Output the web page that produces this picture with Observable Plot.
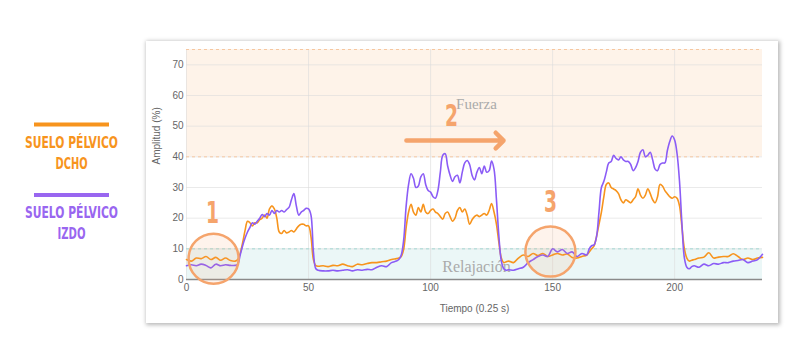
<!DOCTYPE html>
<html>
<head>
<meta charset="utf-8">
<script src="https://cdn.jsdelivr.net/npm/d3@7"></script>
<script src="https://cdn.jsdelivr.net/npm/@observablehq/plot@0.6"></script>
<style>
  html, body { margin: 0; padding: 0; background: #fff; }
  #wrap { position: relative; width: 792px; height: 364px; overflow: hidden; }
  #legend { position: absolute; left: 0; top: 0; }
  #card { position: absolute; left: 146px; top: 41px; width: 632px; height: 282px; background: #fff;
          box-shadow: 1px 1px 4px 1px rgba(0,0,0,0.28); }
  #card svg { display: block; }
</style>
</head>
<body>
<div id="wrap">
  <div id="legend"></div>
  <div id="card"></div>
</div>
<script>
// ---- data ----
const tiempo = [0,2,4,6,8,10,12,14,16,18,20,21,22,23,24,25,26,27,28,29,30,31,32,33,34,35,36,37,38,39,40,41,42,43,44,45,46,47,48,49,50,51,52,53,54,56,58,60,62,64,66,68,70,72,74,76,78,80,82,84,86,87,88,89,90,91,92,93,94,95,96,97,98,99,100,101,102,103,104,105,106,107,108,109,110,111,112,113,114,115,116,117,118,119,120,121,122,123,124,125,126,127,128,129,130,131,132,134,136,138,140,142,144,146,148,150,152,154,156,158,160,162,164,165,166,167,168,169,170,171,172,173,174,175,176,177,178,179,180,181,182,183,184,185,186,187,188,189,190,191,192,193,194,195,196,197,198,199,200,201,202,203,204,205,206,207,208,210,212,214,216,218,220,222,224,226,228,230,232,234,236];

const dcho = [6.5,6.0,7.0,6.8,7.5,6.5,7.2,6.3,7.0,6.2,6.0,6.5,8.5,12,16,19,18.5,17.5,18.5,18.5,19.5,20,21,20,23,24,23,20,15.5,15,16,15.2,15.5,16,15.5,16.5,17.5,18,18,17.5,17.5,14,6.5,4.5,4.3,4.5,4.2,4.6,4.5,5,4.5,4.2,5,4.8,5.2,5.5,5.5,5.8,6,6.5,6.8,7,7.5,10,17,22,24.5,22,21,23.5,22,24.5,22,21.5,22.5,23,22,21.5,20.5,19.7,21.5,22,20.5,19,20,22.5,23.5,22,23,21,18,19.5,20.5,21,20.5,21,21.5,21,22.5,24.8,22,18,12,7,5.5,5.8,6,5.5,7,8,7.5,8.5,7.8,8.5,7.5,8,8.5,8,8.3,7.2,7,7.5,8,9,10,11,14,18,22,27,31,31.5,30,29.5,29,28,26,25,26,25.5,25,26,27,29.6,27.5,26.5,27.5,29.6,28,26,25,27,31,30.5,29,28,27,26.5,27,26.5,24,17,10,7,6,6.3,6.5,7,7.3,8.7,7,7.3,7.5,7.5,8.4,7.5,6.5,7,6.5,7,7.2];

const izdo = [4.5,4.8,4.5,5,4.6,3.8,5,4.5,4.8,4.6,4.6,5,8,11,13.5,15.5,17,18.5,18,19,20,21.2,20.5,21.5,21,22.5,21.5,22.5,22,22.5,22,22.8,23.5,26,28,24,21,22,22.5,23.2,23,21,9,3.5,3,2.8,2.8,3,2.8,3,3.2,2.8,3.2,3,3.3,3.2,4,4.5,4.2,5.5,6,6.5,8,13,24,31,34.5,33,30,30.5,33.5,34.5,31,29,28.5,27,26.5,29,35,40.5,41,37,34,32,33.5,34,31.5,35,38,38.8,37.5,34,32.5,35,36.5,34.5,37,35,35.5,38.6,36,26,14,6,3.5,3,3.2,3,3.5,4,5.5,6.5,7.5,8,7.5,10,9,9.8,8.5,9,7.5,8.5,8,10,11,11.3,14,22,30,32,35,38,38.5,40.5,39.5,39,40,39,38.5,38.5,37.5,35.5,36.5,38.5,41.5,42.3,40,40.5,41.5,39,36,35.5,37.5,38,38,42,45,46.8,45.5,41,32,18,7,4,3.5,4.2,4.5,4,5,4.5,5.2,5,5.5,5.5,6,6.2,6.5,5.5,6,6.5,8.2];

const xTicks = [0, 50, 100, 150, 200];
const yTicks = [0, 10, 20, 30, 40, 50, 60, 70];
const series = ["SUELO PÉLVICO DCHO", "SUELO PÉLVICO IZDO"];
const zonas = [
  {nombre: "Fuerza", desde: 40, hasta: 75},
  {nombre: "Relajación", desde: 0, hasta: 10}
];
// annotation anchors (data units)
const circulos = [{n: "1", t: 11.1, v: 6.8}, {n: "3", t: 149.1, v: 9.1}];
const numeros = [{n: "1", t: 10.7, v: 21.8}, {n: "2", t: 108.6, v: 53.2}, {n: "3", t: 149.1, v: 25.1}];
const flecha = [{t1: 90.1, t2: 129.9, v: 45.3}];
const etiquetasZona = [{txt: "Fuerza", t: 118.8, v: 57.1}, {txt: "Relajación", t: 118.8, v: 4.2}];

const cOrange = "#f7941d";
const cPurple = "#8b5cf6";
const cAnno = "#f5a46c";

const datD = tiempo.map((t, i) => ({t, v: dcho[i]}));
const datI = tiempo.map((t, i) => ({t, v: izdo[i]}));

const chart = Plot.plot({
  width: 632,
  height: 282,
  marginLeft: 40,
  marginRight: 16,
  marginTop: 8,
  marginBottom: 44,
  style: {fontFamily: "'Liberation Sans', Arial, sans-serif", background: "#fff", overflow: "visible"},
  x: {domain: [0, 236]},
  y: {domain: [0, 75]},
  marks: [
    Plot.rectY(zonas, {y1: "desde", y2: "hasta", fill: d => d.nombre === "Fuerza" ? "#fef3e9" : "#ebf7f7"}),
    Plot.gridY(yTicks.slice(1), {stroke: "#dcdcdc", strokeOpacity: 0.6}),
    Plot.gridX(xTicks, {stroke: "#dcdcdc", strokeOpacity: 0.6}),
    Plot.ruleY([40, 75], {stroke: "#f6c7a0", strokeDasharray: "3,3"}),
    Plot.ruleY([10], {stroke: "#a6d8d4", strokeDasharray: "3,3"}),
    Plot.axisY(yTicks, {tickSize: 0, tickPadding: 3, label: null, fontSize: 10, color: "#666"}),
    Plot.axisX(xTicks, {tickSize: 0, tickPadding: 4, label: null, fontSize: 10, color: "#666"}),
    Plot.ruleY([0], {stroke: "#8a8a8a", strokeWidth: 1.5}),
    Plot.text(etiquetasZona, {x: "t", y: "v", text: "txt", fill: "#aaa", fontSize: d => d.txt === "Fuerza" ? 15 : 16,
      fontFamily: "'Liberation Serif', 'DejaVu Serif', serif", textAnchor: "middle", lineAnchor: "middle"}),
    Plot.line(datD, {x: "t", y: "v", stroke: cOrange, strokeWidth: 1.6, curve: "catmull-rom"}),
    Plot.line(datI, {x: "t", y: "v", stroke: cPurple, strokeWidth: 1.6, curve: "catmull-rom"}),
    Plot.dot(circulos, {x: "t", y: "v", r: 25, fill: cAnno, fillOpacity: 0.13, stroke: cAnno, strokeWidth: 2.5}),
    Plot.text(numeros, {x: "t", y: "v", text: "n", fill: cAnno, fontSize: 31, fontWeight: "bold",
      fontFamily: "'DejaVu Sans Condensed', 'DejaVu Sans', sans-serif", textAnchor: "middle", lineAnchor: "middle", className: "num"}),
    Plot.arrow(flecha, {x1: "t1", x2: "t2", y1: "v", y2: "v", stroke: cAnno, strokeWidth: 4.5, headLength: 3.7, headAngle: 90}),
    Plot.text(["Amplitud (%)"], {frameAnchor: "left", dx: -30, rotate: -90, text: d => d, fill: "#666", fontSize: 10}),
    Plot.text(["Tiempo (0.25 s)"], {frameAnchor: "bottom", dy: 32, text: d => d, fill: "#666", fontSize: 10})
  ]
});
d3.select(chart).selectAll("g.num text").attr("textLength", 13).attr("lengthAdjust", "spacingAndGlyphs");
document.getElementById("card").appendChild(chart);

// ---- legend ----
const lg = d3.select("#legend").append("svg").attr("width", 146).attr("height", 364);
const legendItems = [
  {color: cOrange, lineY: 124.5, lines: ["SUELO PÉLVICO", "DCHO"], base: [148, 169], widths: [93, 32]},
  {color: "#9966f0", lineY: 195, lines: ["SUELO PÉLVICO", "IZDO"], base: [218, 239], widths: [93, 28]}
];
legendItems.forEach((it, k) => {
  lg.append("line").attr("x1", 34).attr("x2", 109).attr("y1", it.lineY).attr("y2", it.lineY)
    .attr("stroke", it.color).attr("stroke-width", 4);
  it.lines.forEach((s, j) => {
    lg.append("text").attr("x", 71.5).attr("y", it.base[j]).attr("text-anchor", "middle")
      .attr("fill", it.color).attr("font-family", "'DejaVu Sans Condensed', 'DejaVu Sans', sans-serif")
      .attr("font-weight", "bold").attr("font-size", 15.5)
      .attr("textLength", it.widths[j]).attr("lengthAdjust", "spacingAndGlyphs")
      .text(s);
  });
});
</script>
</body>
</html>
